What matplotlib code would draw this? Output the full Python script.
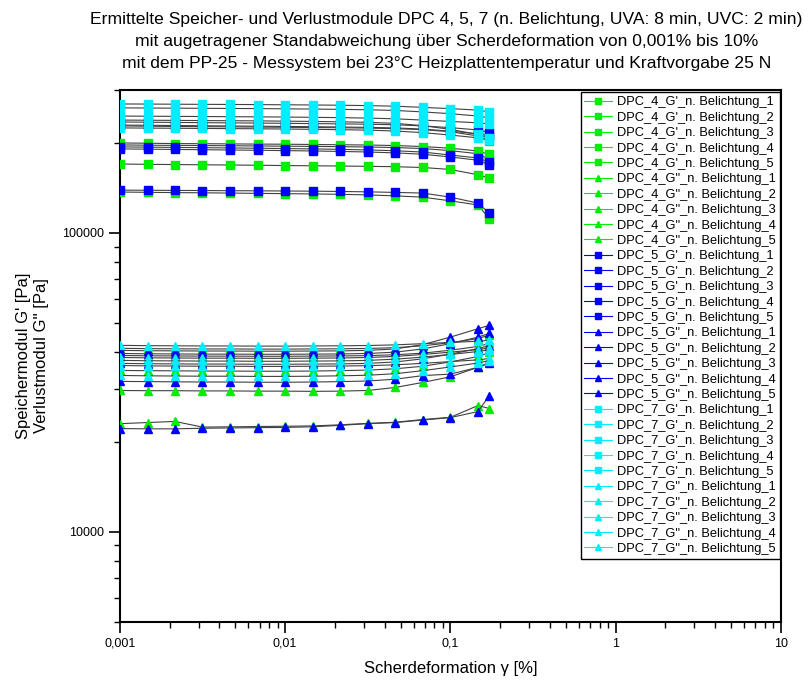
import matplotlib
matplotlib.use("Agg")
import matplotlib.pyplot as plt
from matplotlib.lines import Line2D
from matplotlib.ticker import LogLocator, FixedLocator, NullFormatter

plt.rcParams["font.family"] = ["Liberation Sans", "DejaVu Sans"]

# strain in %
strain = [0.001, 0.00147, 0.00215, 0.00316, 0.00464, 0.00681, 0.01, 0.0147,
          0.0215, 0.0316, 0.0464, 0.0681, 0.1, 0.147, 0.172]

# DPC 4 (green)
dpc4_g1 = [
    [200000, 199500, 199000, 198800, 198500, 198200, 198000, 197600, 197200, 196800, 196000, 194500, 192000, 188000, 183000],
    [197000, 196500, 196200, 196000, 195700, 195400, 195000, 194700, 194300, 193800, 193000, 191500, 188500, 184000, 176000],
    [170000, 169600, 169300, 169000, 168700, 168400, 168000, 167700, 167400, 167000, 166500, 165500, 163000, 156500, 152500],
    [137000, 136700, 136400, 136200, 135900, 135600, 135300, 135000, 134600, 134000, 133000, 131700, 128000, 124000, 111500],
    [228000, 227500, 227000, 226700, 226300, 226000, 225600, 225200, 224800, 224200, 223200, 221500, 218000, 211000, 203000],
]
dpc4_g2 = [
    [41100, 41000, 40950, 40900, 40900, 40850, 40850, 40900, 40950, 41050, 41300, 41900, 42900, 44300, 45500],
    [38900, 38800, 38750, 38700, 38700, 38650, 38650, 38700, 38750, 38850, 39100, 39600, 40500, 41700, 42700],
    [34650, 34600, 34550, 34500, 34500, 34450, 34450, 34500, 34600, 34750, 35100, 35800, 37000, 38600, 39800],
    [29700, 29650, 29650, 29600, 29600, 29550, 29550, 29500, 29550, 29700, 30400, 31600, 33000, 35500, 36900],
    [23000, 23200, 23400, 22400, 22450, 22500, 22550, 22600, 22800, 23050, 23250, 23750, 24150, 26450, 25850],
]

# DPC 5 (blue)
dpc5_g1 = [
    [235000, 234600, 234200, 233800, 233400, 233000, 232600, 232100, 231600, 231000, 230000, 228000, 225000, 221000, 217000],
    [229500, 229100, 228700, 228300, 227900, 227500, 227100, 226600, 226100, 225500, 224500, 222500, 219000, 214500, 211000],
    [194000, 193600, 193200, 192800, 192400, 192000, 191500, 191000, 190300, 189500, 188300, 186400, 182200, 178100, 172600],
    [191000, 190600, 190200, 189800, 189400, 189000, 188500, 188000, 187300, 186500, 185200, 183300, 179500, 175000, 169000],
    [139000, 138900, 138700, 138600, 138400, 138300, 138100, 137900, 137600, 137200, 136600, 135900, 131700, 125800, 116400],
]
dpc5_g2 = [
    [40450, 40350, 40300, 40250, 40250, 40200, 40200, 40250, 40300, 40450, 40900, 42300, 44800, 47800, 49050],
    [39500, 39400, 39350, 39300, 39300, 39250, 39250, 39300, 39350, 39500, 39900, 40900, 42600, 44800, 46100],
    [36600, 36500, 36450, 36400, 36400, 36350, 36350, 36400, 36450, 36600, 37000, 37900, 39300, 41000, 42000],
    [31850, 31800, 31750, 31700, 31700, 31650, 31650, 31700, 31800, 31950, 32400, 33300, 33700, 35500, 36600],
    [22150, 22100, 22100, 22200, 22250, 22300, 22350, 22450, 22700, 23000, 23200, 23650, 24100, 25250, 28550],
]

# DPC 7 (cyan)
dpc7_g1 = [
    [270000, 269800, 269500, 269200, 269000, 268700, 268300, 267900, 267400, 266600, 265400, 263000, 260500, 257500, 254000],
    [262000, 261700, 261400, 261100, 260800, 260500, 260100, 259600, 259000, 258200, 256800, 254000, 250500, 246000, 242500],
    [246000, 245700, 245400, 245100, 244800, 244500, 244100, 243600, 243000, 242200, 240800, 238500, 236000, 233500, 231500],
    [238500, 238200, 237900, 237600, 237300, 237000, 236500, 236000, 235300, 234400, 232500, 228500, 222000, 213500, 207500],
    [224500, 224200, 223900, 223600, 223300, 223000, 222600, 222100, 221500, 220700, 219200, 216500, 212500, 208000, 204500],
]
dpc7_g2 = [
    [42050, 41950, 41900, 41850, 41850, 41800, 41800, 41850, 41900, 42000, 42200, 42600, 43000, 43400, 43700],
    [38300, 38200, 38150, 38100, 38100, 38050, 38050, 38100, 38150, 38300, 38600, 39200, 39900, 40700, 41200],
    [37450, 37350, 37300, 37250, 37250, 37200, 37200, 37250, 37300, 37450, 37800, 38400, 39200, 40100, 40600],
    [36000, 35900, 35850, 35800, 35800, 35750, 35750, 35800, 35850, 35950, 36200, 36600, 37100, 37600, 38000],
    [33350, 33250, 33200, 33150, 33150, 33100, 33100, 33150, 33250, 33400, 33800, 34600, 35600, 36700, 37400],
]

groups = [
    ("DPC_4", "#00ee00", dpc4_g1, dpc4_g2),
    ("DPC_5", "#0000ff", dpc5_g1, dpc5_g2),
    ("DPC_7", "#00eeff", dpc7_g1, dpc7_g2),
]

fig = plt.figure(figsize=(8.1, 6.84), dpi=100)
ax = fig.add_axes([0.148, 0.091, 0.816, 0.777])

handles = []
labels = []
for name, col, g1, g2 in groups:
    for mod, marker, series in (("G'", "s", g1), ('G"', "^", g2)):
        for i, vals in enumerate(series):
            ax.plot(strain, vals, color="#404040", lw=0.8, marker=marker,
                    ms=6, mfc=col, mec=col, zorder=3)
            handles.append(Line2D([], [], color=col, lw=0.8, marker=marker,
                                  ms=4.5, mfc=col, mec=col))
            labels.append(f"{name}_{mod}_n. Belichtung_{i + 1}")

ax.set_xscale("log")
ax.set_yscale("log")
ax.set_xlim(0.001, 10)
ax.set_ylim(5000, 300000)

ax.xaxis.set_major_locator(FixedLocator([0.001, 0.01, 0.1, 1, 10]))
ax.set_xticklabels(["0,001", "0,01", "0,1", "1", "10"])
ax.xaxis.set_minor_locator(LogLocator(base=10, subs=range(2, 10), numticks=20))
ax.xaxis.set_minor_formatter(NullFormatter())
ax.yaxis.set_major_locator(FixedLocator([10000, 100000]))
ax.set_yticklabels(["10000", "100000"])
ax.yaxis.set_minor_locator(LogLocator(base=10, subs=range(2, 10), numticks=20))
ax.yaxis.set_minor_formatter(NullFormatter())

ax.tick_params(which="major", direction="out", length=8, width=1.2, labelsize=9)
ax.tick_params(which="minor", direction="out", length=4.5, width=1.0)
for s in ax.spines.values():
    s.set_linewidth(1.5)

ax.set_xlabel("Scherdeformation \u03b3 [%]", fontsize=12, labelpad=8)
ax.set_ylabel("Speichermodul G' [Pa]\nVerlustmodul G'' [Pa]", fontsize=12,
              labelpad=9, linespacing=1.3)

fig.text(0.551, 0.983,
         "Ermittelte Speicher- und Verlustmodule DPC 4, 5, 7 (n. Belichtung, UVA: 8 min, UVC: 2 min)\n"
         "mit augetragener Standabweichung \u00fcber Scherdeformation von 0,001% bis 10%\n"
         "mit dem PP-25 - Messystem bei 23\u00b0C Heizplattentemperatur und Kraftvorgabe 25 N",
         ha="center", va="top", fontsize=12.6, linespacing=1.6)

leg = ax.legend(handles, labels, loc="upper right", bbox_to_anchor=(0.998, 0.996),
                fontsize=9.3, labelspacing=0.26, handlelength=2.1,
                handletextpad=0.4, borderpad=0.3, borderaxespad=0.0,
                fancybox=False, framealpha=1)
leg.get_frame().set_edgecolor("black")
leg.get_frame().set_linewidth(1.0)

fig.savefig("out.png", dpi=100)
